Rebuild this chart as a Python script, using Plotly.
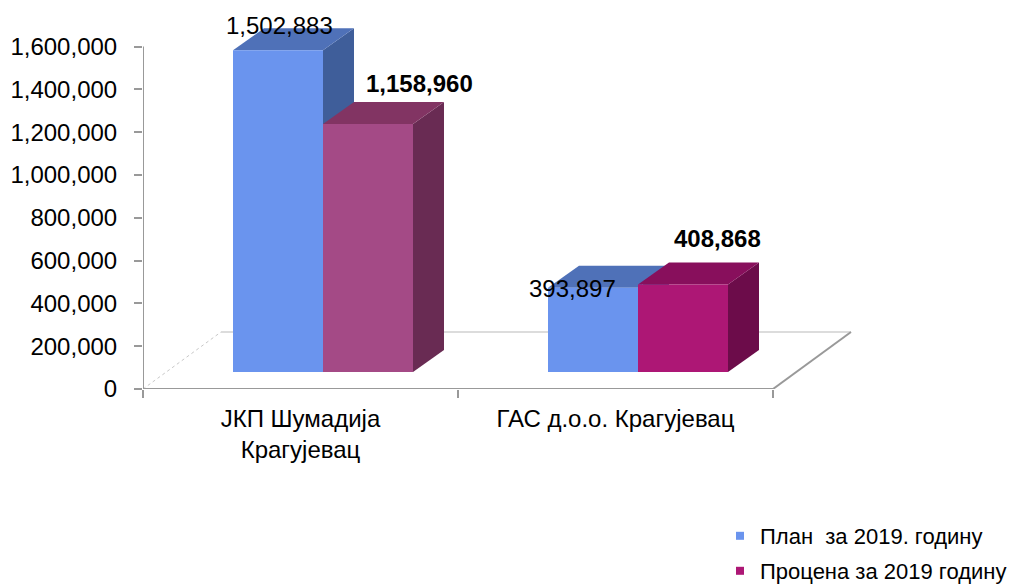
import plotly.graph_objects as go

# ---------------- data ----------------
categories = ["ЈКП Шумадија<br>Крагујевац", "ГАС д.о.о. Крагујевац"]
plan_2019 = [1502883, 393897]
procena_2019 = [1158960, 408868]
series_names = ["План \u00a0за 2019. годину", "Процена за 2019 годину"]
y_tick_values = [0, 200000, 400000, 600000, 800000, 1000000, 1200000, 1400000, 1600000]

# ---------------- style ----------------
FONT = "Liberation Sans, Arial, sans-serif"
PX_PER_UNIT_X = 315.0          # pixels per category
PX_PER_MILLION = 214.06        # pixels per 1,000,000 on y
VAL_PER_PX = 1e6 / PX_PER_MILLION

ML, MR, MT, MB = 143, 142, 15, 196
W, H = 1012, 585
plot_w = W - ML - MR
plot_h = H - MT - MB
x_range = [-0.5, -0.5 + plot_w / PX_PER_UNIT_X]
y_range = [0, plot_h * VAL_PER_PX]

bar_w = 90 / PX_PER_UNIT_X
bar_shift = 22.5 / PX_PER_UNIT_X          # front face shift due to depth
base_val = 17 * VAL_PER_PX                # bars stand inside the floor
side_dx = 31 / PX_PER_UNIT_X
top_dy = 22 * VAL_PER_PX
floor_dx = 78 / PX_PER_UNIT_X
floor_dy = 57 * VAL_PER_PX

blue_cols = dict(front="#6A94EE", top="#4F71B8", side="#3F5E9A")
pro_cols = [dict(front="#A44A86", top="#823463", side="#692B53"),
            dict(front="#AD1775", top="#880F5C", side="#6C0C4A")]

xs = list(range(len(categories)))
plan_off = bar_shift - bar_w
pro_off = bar_shift

fig = go.Figure()

fig.add_trace(go.Bar(
    x=xs, y=plan_2019, base=[base_val] * len(xs), width=bar_w, offset=plan_off,
    marker=dict(color=blue_cols["front"], line=dict(width=0)),
    showlegend=False, name=series_names[0]))
fig.add_trace(go.Bar(
    x=xs, y=procena_2019, base=[base_val] * len(xs), width=bar_w, offset=pro_off,
    marker=dict(color=[c["front"] for c in pro_cols], line=dict(width=0)),
    showlegend=False, name=series_names[1]))

# legend-only traces
fig.add_trace(go.Scatter(x=[None], y=[None], mode="markers", name=series_names[0],
                         marker=dict(symbol="square", size=8, color=blue_cols["front"]),
                         legend="legend"))
fig.add_trace(go.Scatter(x=[None], y=[None], mode="markers", name=series_names[1],
                         marker=dict(symbol="square", size=8, color=pro_cols[1]["front"]),
                         legend="legend2"))

shapes = []
# floor lines
x_left, x_right = -0.5, len(categories) - 0.5
shapes.append(dict(type="line", xref="x", yref="y", x0=x_left + floor_dx, x1=x_right + floor_dx,
                   y0=floor_dy, y1=floor_dy, line=dict(color="#DCDCDC", width=2), layer="below"))
shapes.append(dict(type="line", xref="x", yref="y", x0=x_left, x1=x_left + floor_dx,
                   y0=0, y1=floor_dy, line=dict(color="#C8C8C8", width=1, dash="dot"), layer="below"))
shapes.append(dict(type="line", xref="x", yref="y", x0=x_right, x1=x_right + floor_dx,
                   y0=0, y1=floor_dy, line=dict(color="#999999", width=2), layer="below"))


def box_faces(x0, x1, top, cols):
    b = base_val
    top_path = (f"M{x0},{top} L{x1},{top} L{x1 + side_dx},{top + top_dy} "
                f"L{x0 + side_dx},{top + top_dy} Z")
    side_path = (f"M{x1},{b} L{x1},{top} L{x1 + side_dx},{top + top_dy} "
                 f"L{x1 + side_dx},{b + top_dy} Z")
    return [dict(type="path", xref="x", yref="y", path=side_path, fillcolor=cols["side"],
                 line=dict(width=0), layer="below"),
            dict(type="path", xref="x", yref="y", path=top_path, fillcolor=cols["top"],
                 line=dict(width=0), layer="below")]


for i, x in enumerate(xs):
    shapes += box_faces(x + plan_off, x + plan_off + bar_w, base_val + plan_2019[i], blue_cols)
    shapes += box_faces(x + pro_off, x + pro_off + bar_w, base_val + procena_2019[i], pro_cols[i])

# front axis lines
shapes.append(dict(type="line", xref="x", yref="y", x0=x_left, x1=x_right, y0=0, y1=0,
                   line=dict(color="#999999", width=2), layer="above"))
shapes.append(dict(type="line", xref="x", yref="y", x0=x_left, x1=x_left, y0=0,
                   y1=y_tick_values[-1], line=dict(color="#999999", width=2), layer="above"))

# data labels
label_shift = [  # (xshift, yshift) per bar
    [(1, 25), (51, 40)],
    [(-21, -1), (34, 46)],
]
annotations = []
for i, x in enumerate(xs):
    annotations.append(dict(
        x=x + plan_off + bar_w / 2, y=base_val + plan_2019[i], xref="x", yref="y",
        text=f"{plan_2019[i]:,}", showarrow=False,
        xshift=label_shift[i][0][0], yshift=label_shift[i][0][1],
        font=dict(family=FONT, size=24, color="#000000")))
    annotations.append(dict(
        x=x + pro_off + bar_w / 2, y=base_val + procena_2019[i], xref="x", yref="y",
        text=f"<b>{procena_2019[i]:,}</b>", showarrow=False,
        xshift=label_shift[i][1][0], yshift=label_shift[i][1][1],
        font=dict(family=FONT, size=24, color="#000000")))


def px2paper_x(px):
    return (px - ML) / plot_w


def px2paper_y(py):
    return (H - MB - py) / plot_h


fig.update_layout(
    width=W, height=H,
    margin=dict(l=ML, r=MR, t=MT, b=MB, autoexpand=False),
    paper_bgcolor="white", plot_bgcolor="white",
    barmode="overlay",
    font=dict(family=FONT, color="#000000"),
    shapes=shapes, annotations=annotations,
    xaxis=dict(range=x_range, tickmode="array", tickvals=xs, ticktext=categories,
               showgrid=False, zeroline=False, showline=False, ticks="",
               ticklabelstandoff=13, automargin=False,
               tickfont=dict(family=FONT, size=24, color="#000000"),
               minor=dict(tickmode="array", tickvals=[-0.5, 0.5, 1.5], ticks="outside",
                          ticklen=8, tickwidth=2, tickcolor="#999999", showgrid=False),
               fixedrange=True),
    yaxis=dict(range=y_range, tickmode="array", tickvals=y_tick_values, tickformat=",d",
               showgrid=False, zeroline=False, showline=False, ticks="outside",
               ticklen=8, tickwidth=2, tickcolor="#999999", ticklabelstandoff=12,
               automargin=False,
               tickfont=dict(family=FONT, size=24, color="#000000"), fixedrange=True),
    legend=dict(x=px2paper_x(720), y=px2paper_y(536), xanchor="left", yanchor="middle",
                font=dict(family=FONT, size=22, color="#000000"), bgcolor="rgba(0,0,0,0)",
                itemwidth=30),
    legend2=dict(x=px2paper_x(720), y=px2paper_y(571), xanchor="left", yanchor="middle",
                 font=dict(family=FONT, size=22, color="#000000"), bgcolor="rgba(0,0,0,0)",
                 itemwidth=30),
)

fig.write_html("out.html", config={"displayModeBar": False},
               post_script="document.body.style.margin='0px';")
